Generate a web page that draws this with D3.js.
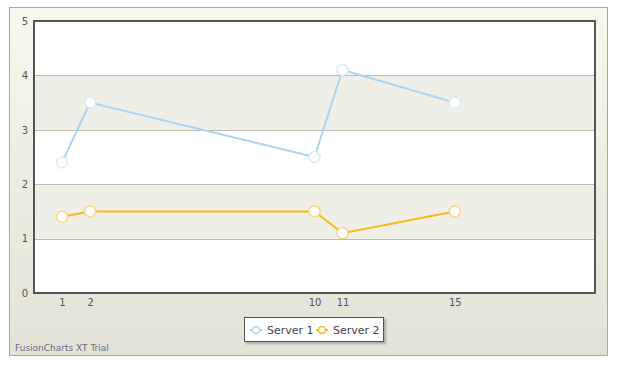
<!DOCTYPE html>
<html><head><meta charset="utf-8">
<script src="https://cdn.jsdelivr.net/npm/d3@7"></script>
<style>body{margin:0;background:#fff;}svg{display:block;font-family:Verdana,"DejaVu Sans",sans-serif;}</style>
</head><body><svg id="c" width="618" height="365"></svg>
<script>
const seriesNames = ["Server 1", "Server 2"];
const xValues = [1, 2, 10, 11, 15];
const server1 = [2.4, 3.5, 2.5, 4.1, 3.5];
const server2 = [1.4, 1.5, 1.5, 1.1, 1.5];
const yTicks = [0, 1, 2, 3, 4, 5];
const colors = ["#A9D5F3", "#F6B91D"];
const markerStroke = ["#D6ECFB", "#FAD77E"];

const svg = d3.select("#c");
const defs = svg.append("defs");
const g = defs.append("linearGradient").attr("id","bg").attr("x1",0).attr("y1",0).attr("x2",0).attr("y2",1);
g.append("stop").attr("offset","0%").attr("stop-color","#F7F8EE");
g.append("stop").attr("offset","100%").attr("stop-color","#E2E3D6");
const f = defs.append("filter").attr("id","sh").attr("x","-10%").attr("y","-20%").attr("width","130%").attr("height","160%");
f.append("feDropShadow").attr("dx",2).attr("dy",2).attr("stdDeviation",1.2).attr("flood-color","#000").attr("flood-opacity",0.25);

svg.append("rect").attr("x",9.5).attr("y",7.5).attr("width",598).attr("height",348)
  .attr("fill","url(#bg)").attr("stroke","#A8A8A0").attr("stroke-width",1);

const L = 34, R = 595, T = 21, B = 293;
const x = d3.scaleLinear().domain([0, 20]).range([L, R]);
const y = d3.scaleLinear().domain([0, 5]).range([B, T]);

svg.append("rect").attr("x",L).attr("y",T).attr("width",R-L).attr("height",B-T).attr("fill","#fff");
// alternate bands
[[1,2],[3,4]].forEach(b => {
  svg.append("rect").attr("x",L).attr("y",y(b[1])).attr("width",R-L).attr("height",y(b[0])-y(b[1])).attr("fill","#EFEFE7");
});
// grid lines
svg.append("g").selectAll("line").data(yTicks.slice(1,-1)).join("line")
  .attr("x1",L).attr("x2",R).attr("y1",d=>Math.round(y(d))+0.5).attr("y2",d=>Math.round(y(d))+0.5)
  .attr("stroke","#B9B9AD").attr("stroke-width",1);

// border
svg.append("rect").attr("x",L).attr("y",T).attr("width",R-L).attr("height",B-T)
  .attr("fill","none").attr("stroke","#555").attr("stroke-width",2);

// y axis labels
const yAxis = d3.axisLeft(y).tickValues(yTicks).tickSize(0).tickPadding(5).tickFormat(d3.format("d"));
const ya = svg.append("g").attr("transform",`translate(${L-1},0)`).call(yAxis);
ya.select(".domain").remove();
ya.selectAll("text").attr("fill","#555").style("font-size","10px").style("font-family","Verdana,'DejaVu Sans',sans-serif");

// x axis labels
const xAxis = d3.axisBottom(x).tickValues(xValues).tickSize(0).tickPadding(6).tickFormat(d3.format("d"));
const xa = svg.append("g").attr("transform",`translate(0,${B})`).call(xAxis);
xa.select(".domain").remove();
xa.selectAll("text").attr("fill","#555").style("font-size","10px").style("font-family","Verdana,'DejaVu Sans',sans-serif");

const all = [server1, server2];
const line = d3.line().x((d,i)=>x(xValues[i])).y(d=>y(d));
all.forEach((s, k) => {
  svg.append("path").datum(s).attr("d", line).attr("fill","none").attr("stroke",colors[k]).attr("stroke-width",2);
});
all.forEach((s, k) => {
  svg.append("g").selectAll("circle").data(s).join("circle")
    .attr("cx",(d,i)=>x(xValues[i])).attr("cy",d=>y(d)).attr("r",5.5)
    .attr("fill","#fff").attr("stroke",markerStroke[k]).attr("stroke-width",1.5);
});

// legend
const lg = svg.append("g");
lg.append("rect").attr("x",244.5).attr("y",317.5).attr("width",139).attr("height",24)
  .attr("fill","#fff").attr("stroke","#555").attr("stroke-width",1).attr("filter","url(#sh)");
const items = [{x:256, tx:267}, {x:322, tx:333}];
items.forEach((it,k)=>{
  lg.append("line").attr("x1",it.x-6).attr("x2",it.x+6).attr("y1",330).attr("y2",330).attr("stroke",colors[k]).attr("stroke-width",2);
  lg.append("circle").attr("cx",it.x).attr("cy",330).attr("r",3.5).attr("fill","#fff").attr("stroke",colors[k]).attr("stroke-width",1.5);
  lg.append("text").attr("x",it.tx).attr("y",334).text(seriesNames[k]).attr("fill","#444").style("font-size","11px");
});

svg.append("text").attr("x",15).attr("y",351).text("FusionCharts XT Trial").attr("fill","#6B6A83").style("font-size","9px");
</script></body></html>
